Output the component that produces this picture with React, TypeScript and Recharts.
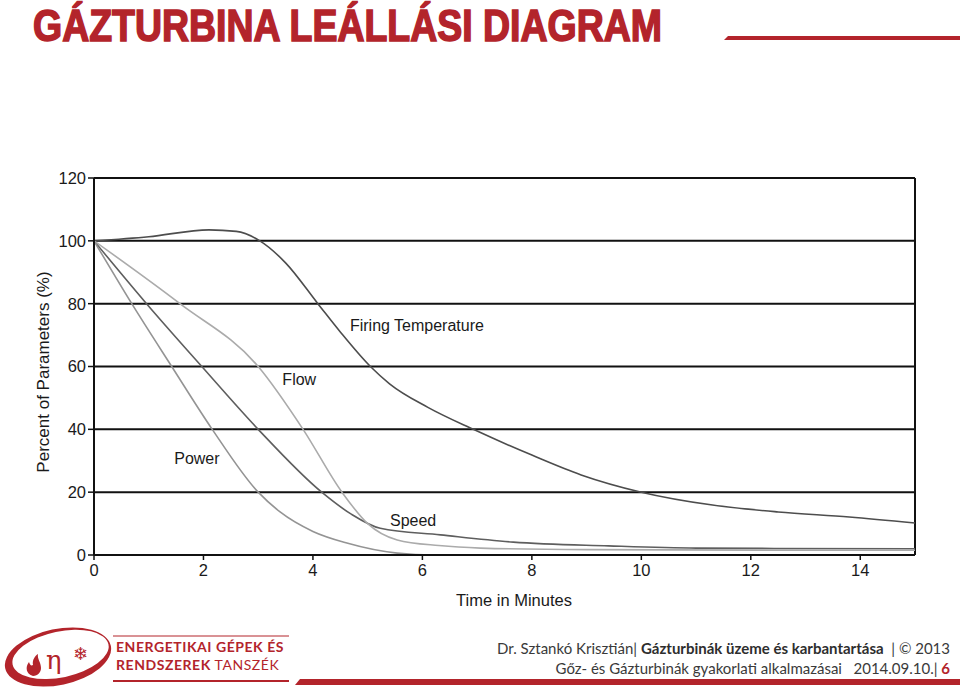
import React from "react";
import {
  LineChart,
  Line,
  XAxis,
  YAxis,
  CartesianGrid,
  ReferenceLine,
  ReferenceDot,
} from "recharts";

// values (time in minutes, percent)
const firingTime = [0, 1, 2.1, 2.6, 3.03, 3.5, 4.09, 4.5, 5.05, 5.4, 6.1, 6.93, 8, 8.9, 10, 11.3, 12.5, 13.8, 15];
const firingValues = [100, 101.3, 103.5, 103, 100, 93, 80, 71, 60, 54.5, 47, 40, 31.8, 25.5, 20, 15.9, 13.7, 12.1, 10.2];

const speedTime = [0, 0.96, 1.97, 3.0, 4.16, 4.7, 5.23, 6.33, 7.66, 9.4, 11, 15];
const speedValues = [100, 80, 60, 40, 20, 13, 8.5, 6.4, 4.1, 2.9, 2.2, 2];

const flowTime = [0, 1.57, 3.0, 3.82, 4.53, 5.0, 5.54, 6.3, 7.06, 9, 15];
const flowValues = [100, 80, 60, 40, 20, 10, 4.8, 3, 2.2, 1.7, 1.5];

const powerTime = [0, 0.69, 1.42, 2.16, 3.0, 3.4, 4.0, 4.62, 5.54, 6.2, 15];
const powerValues = [100, 80, 60, 40, 20, 13.7, 7.5, 3.8, 0.6, 0, 0];

const xTicks = [0, 2, 4, 6, 8, 10, 12, 14];
const yTicks = [0, 20, 40, 60, 80, 100, 120];

const seriesLabels = [
  { name: "Firing Temperature", t: 5.9, v: 73.2 },
  { name: "Flow", t: 3.75, v: 56 },
  { name: "Power", t: 1.88, v: 30.9 },
  { name: "Speed", t: 5.83, v: 11.1 },
];

const toPoints = (ts: number[], vs: number[]) => ts.map((t, i) => ({ t, v: vs[i] }));

const RED = "#b3242b";
const chartFont = "'Liberation Sans', Arial, sans-serif";
const footFont = "Lato, sans-serif";

export default function App() {
  const series = [
    { key: "firing", data: toPoints(firingTime, firingValues), color: "#4d4d4d" },
    { key: "speed", data: toPoints(speedTime, speedValues), color: "#5e5e5e" },
    { key: "flow", data: toPoints(flowTime, flowValues), color: "#ababab" },
    { key: "power", data: toPoints(powerTime, powerValues), color: "#949494" },
  ];

  return (
    <div style={{ position: "absolute", left: 0, top: 0, width: 960, height: 690, background: "#fff" }}>
      <div style={{ position: "absolute", left: 0, top: 0 }}>
        <LineChart
          width={960}
          height={690}
          margin={{ top: 178, right: 45, bottom: 105, left: 54 }}
          style={{ fontFamily: chartFont }}
        >
          <CartesianGrid vertical={false} stroke="#111" strokeWidth={2} />
          <XAxis
            type="number"
            dataKey="t"
            domain={[0, 15]}
            ticks={xTicks}
            height={30}
            axisLine={{ stroke: "#111", strokeWidth: 2 }}
            tickLine={{ stroke: "#111", strokeWidth: 1.5 }}
            tickSize={5}
            tickMargin={4}
            tick={{ fontSize: 16.5, fill: "#1a1a1a" }}
            allowDataOverflow
          />
          <YAxis
            type="number"
            dataKey="v"
            domain={[0, 120]}
            ticks={yTicks}
            width={40}
            axisLine={{ stroke: "#111", strokeWidth: 2 }}
            tickLine={{ stroke: "#111", strokeWidth: 1.5 }}
            tickSize={6}
            tickMargin={2}
            tick={{ fontSize: 16.5, fill: "#1a1a1a" }}
          />
          <ReferenceLine x={15} stroke="#111" strokeWidth={2} />
          {series.map((s) => (
            <Line
              key={s.key}
              data={s.data}
              dataKey="v"
              type="monotone"
              stroke={s.color}
              strokeWidth={1.6}
              dot={false}
              isAnimationActive={false}
            />
          ))}
          {seriesLabels.map((l) => (
            <ReferenceDot
              key={l.name}
              x={l.t}
              y={l.v}
              r={1}
              fill="none"
              stroke="none"
              label={{ value: l.name, position: "center", fontSize: 16, fill: "#1a1a1a" }}
            />
          ))}
        </LineChart>
      </div>

      <svg
        width={960}
        height={690}
        style={{ position: "absolute", left: 0, top: 0, pointerEvents: "none" }}
      >
        {/* title */}
        <text
          x={33}
          y={41}
          textLength={629}
          lengthAdjust="spacingAndGlyphs"
          fontFamily="'Liberation Sans', Arial, sans-serif"
          fontWeight="bold"
          fontSize={45}
          fill={RED}
          stroke={RED}
          strokeWidth={1.6}
        >
          GÁZTURBINA LEÁLLÁSI DIAGRAM
        </text>
        <polygon points="728,36 960,36 960,40 724,40" fill={RED} />

        {/* axis titles */}
        <text x={514} y={606} textAnchor="middle" fontFamily={chartFont} fontSize={16.5} fill="#1a1a1a">
          Time in Minutes
        </text>
        <text
          transform="translate(49,372) rotate(-90)"
          textAnchor="middle"
          fontFamily={chartFont}
          fontSize={17}
          fill="#1a1a1a"
        >
          Percent of Parameters (%)
        </text>

        {/* footer logo */}
        <g transform="rotate(-12 58 657)">
          <ellipse cx={58} cy={657} rx={54} ry={28} fill={RED} />
          <ellipse cx={61} cy={655} rx={49} ry={23} fill="#fff" />
        </g>
        <text x={46} y={669} fontFamily="'DejaVu Serif', serif" fontSize={26} fill={RED}>
          η
        </text>
        <text x={73} y={660} fontFamily="'DejaVu Sans', sans-serif" fontSize={18} fill={RED}>
          ❄
        </text>
        <path
          d="M33,676 C26,674 25,667 29,662 C30,665 31,666 33,665 C32,660 35,656 38,654 C37,659 41,662 41,668 C41,672 38,676 33,676 Z"
          fill={RED}
        />
        <line x1={113} y1={636} x2={289} y2={636} stroke={RED} strokeWidth={1} />
        <text x={116} y={652} fontFamily={footFont} fontWeight="bold" fontSize={14} letterSpacing={0.55} fill={RED}>
          ENERGETIKAI GÉPEK ÉS
        </text>
        <text x={116} y={669.5} fontFamily={footFont} fontSize={14} letterSpacing={0.55} fill={RED}>
          <tspan fontWeight="bold">RENDSZEREK</tspan> TANSZÉK
        </text>
        <line x1={113} y1={681} x2={289} y2={681} stroke={RED} strokeWidth={2} />
        <polygon points="300,679 960,679 960,685 295,685" fill={RED} />

        {/* footer right text */}
        <text
          x={950}
          y={654}
          textAnchor="end"
          fontFamily={footFont}
          fontSize={15}
          fill="#3a3a3a"
          style={{ whiteSpace: "pre" }}
        >
          {"Dr. Sztankó Krisztián| "}
          <tspan fontWeight="bold" fill="#2e2e2e">Gázturbinák üzeme és karbantartása</tspan>
          {"  | © 2013"}
        </text>
        <text
          x={950}
          y={674}
          textAnchor="end"
          fontFamily={footFont}
          fontSize={15}
          fill="#3a3a3a"
          style={{ whiteSpace: "pre" }}
        >
          {"Gőz- és Gázturbinák gyakorlati alkalmazásai   2014.09.10.| "}
          <tspan fontWeight="bold" fill={RED}>6</tspan>
        </text>
      </svg>
    </div>
  );
}
